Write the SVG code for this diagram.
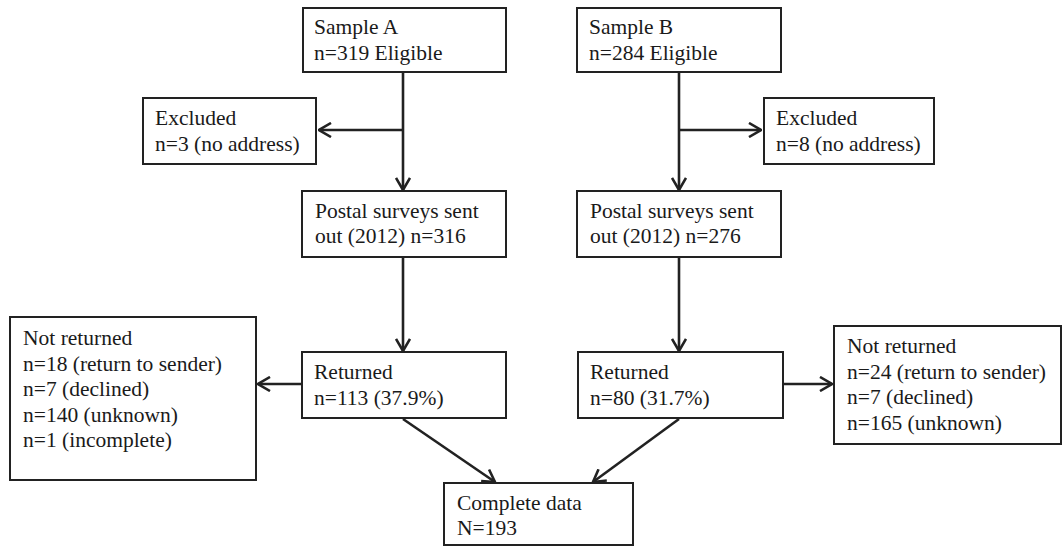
<svg xmlns="http://www.w3.org/2000/svg" width="1063" height="548" viewBox="0 0 1063 548" font-family="Liberation Serif, Times New Roman, serif">
<style>
.box{fill:#fff;stroke:#222;stroke-width:2}
.t{font-size:21.5px;fill:#1a1a1a}
.c{stroke:#222;stroke-width:2.6;fill:none}
</style>
<defs>
<marker id="ah" viewBox="0 0 14 16" refX="13" refY="8" markerWidth="14" markerHeight="16" markerUnits="userSpaceOnUse" orient="auto">
<path d="M1,1 L13,8 L1,15" fill="none" stroke="#222" stroke-width="2.6"/>
</marker>
</defs>
<rect width="1063" height="548" fill="#fff"/>
<g id="connectors">
<line class="c" x1="403" y1="72" x2="403" y2="190" marker-end="url(#ah)"/>
<line class="c" x1="403" y1="130" x2="319" y2="130" marker-end="url(#ah)"/>
<line class="c" x1="679" y1="72" x2="679" y2="190" marker-end="url(#ah)"/>
<line class="c" x1="679" y1="130" x2="761" y2="130" marker-end="url(#ah)"/>
<line class="c" x1="403" y1="257" x2="403" y2="351" marker-end="url(#ah)"/>
<line class="c" x1="679" y1="257" x2="679" y2="351" marker-end="url(#ah)"/>
<line class="c" x1="302" y1="384" x2="258" y2="384" marker-end="url(#ah)"/>
<line class="c" x1="783" y1="384" x2="832" y2="384" marker-end="url(#ah)"/>
<line class="c" x1="403" y1="419" x2="495" y2="482" marker-end="url(#ah)"/>
<line class="c" x1="679" y1="419" x2="593" y2="482" marker-end="url(#ah)"/>
</g>
<g id="sampleA"><rect class="box" x="303" y="8" width="203" height="64"/><text class="t" font-family="Liberation Serif, serif" x="314" y="34">Sample A</text><text class="t" font-family="Liberation Serif, serif" x="314" y="60">n=319 Eligible</text></g>
<g id="sampleB"><rect class="box" x="577" y="8" width="204" height="64"/><text class="t" x="589" y="34">Sample B</text><text class="t" x="589" y="60">n=284 Eligible</text></g>
<g id="excludedA"><rect class="box" x="143" y="98" width="173" height="66"/><text class="t" x="155" y="125">Excluded</text><text class="t" x="155" y="151">n=3 (no address)</text></g>
<g id="excludedB"><rect class="box" x="764" y="98" width="170" height="66"/><text class="t" x="776" y="125">Excluded</text><text class="t" x="776" y="151">n=8 (no address)</text></g>
<g id="postalA"><rect class="box" x="302" y="191" width="204" height="66"/><text class="t" x="315" y="218">Postal surveys sent</text><text class="t" x="315" y="243">out (2012) n=316</text></g>
<g id="postalB"><rect class="box" x="577" y="191" width="204" height="66"/><text class="t" x="590" y="218">Postal surveys sent</text><text class="t" x="590" y="243">out (2012) n=276</text></g>
<g id="notReturnedA"><rect class="box" x="10" y="317" width="246" height="163"/><text class="t" x="23" y="345">Not returned</text><text class="t" x="23" y="371">n=18 (return to sender)</text><text class="t" x="23" y="396">n=7 (declined)</text><text class="t" x="23" y="422">n=140 (unknown)</text><text class="t" x="23" y="447">n=1 (incomplete)</text></g>
<g id="returnedA"><rect class="box" x="302" y="352" width="204" height="66"/><text class="t" x="314" y="379">Returned</text><text class="t" x="314" y="405">n=113 (37.9%)</text></g>
<g id="returnedB"><rect class="box" x="578" y="352" width="205" height="66"/><text class="t" x="590" y="379">Returned</text><text class="t" x="590" y="405">n=80 (31.7%)</text></g>
<g id="notReturnedB"><rect class="box" x="834" y="326" width="227" height="118"/><text class="t" x="847" y="353">Not returned</text><text class="t" x="847" y="379">n=24 (return to sender)</text><text class="t" x="847" y="404">n=7 (declined)</text><text class="t" x="847" y="430">n=165 (unknown)</text></g>
<g id="complete"><rect class="box" x="444" y="483" width="189" height="62"/><text class="t" x="457" y="510">Complete data</text><text class="t" x="457" y="535">N=193</text></g>
</svg>
